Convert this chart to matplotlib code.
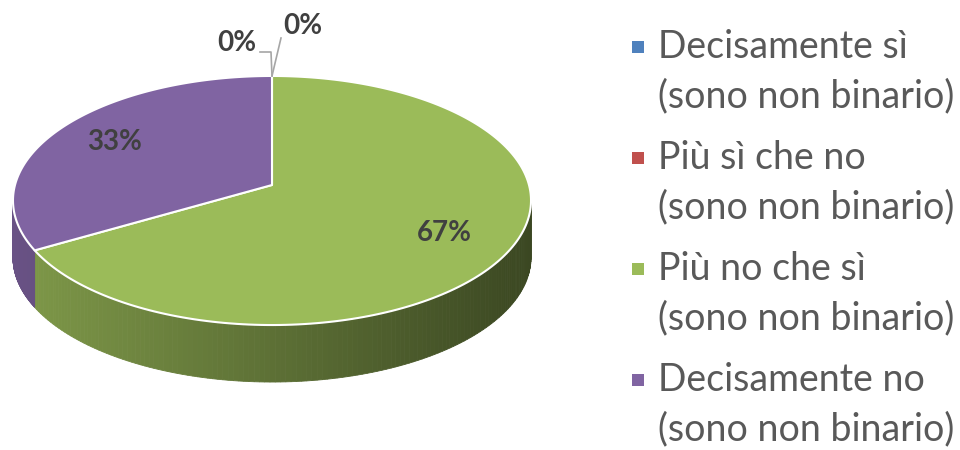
import numpy as np
import matplotlib.pyplot as plt
from matplotlib.patches import Polygon, Rectangle

# ── Data ──────────────────────────────────────────────────────────────────────
categories = ["Decisamente sì\n(sono non binario)",
              "Più sì che no\n(sono non binario)",
              "Più no che sì\n(sono non binario)",
              "Decisamente no\n(sono non binario)"]
values = [0, 0, 2, 1]
colors = ["#4F81BD", "#C0504D", "#9BBB59", "#8064A2"]

# ── Geometry (pixel space), slight perspective like Excel's 3-D pie ─────────
cx, cy = 272, 185      # projected centre of the top disc
rx, ry = 257, 122.6
persp = 0.1245
depth = 57

plt.rcParams["font.family"] = ["Lato", "DejaVu Sans"]

fig = plt.figure(figsize=(9.6, 4.5), dpi=100)
ax = fig.add_axes([0, 0, 1, 1])
ax.set_xlim(0, 960)
ax.set_ylim(450, 0)
ax.axis("off")


def pt(theta, r=1.0, dz=0.0):
    # theta measured clockwise from 12 o'clock
    u, v = r * np.sin(theta), r * np.cos(theta)
    w = 1 + persp * v
    return cx + rx * u / w, cy - ry * v / w + dz


def shade(hex_color, f):
    c = np.array([int(hex_color[i:i + 2], 16) for i in (1, 3, 5)]) / 255
    return tuple(np.clip(c * f, 0, 1))


total = sum(values)
fracs = np.array(values) / total
ends = np.cumsum(fracs) * 2 * np.pi
starts = ends - fracs * 2 * np.pi

# visible part of the rim (silhouette points where cos(theta) = -persp)
rim_lo = np.arccos(-persp)
rim_hi = 2 * np.pi - rim_lo
x_left = pt(rim_hi)[0]
x_right = pt(rim_lo)[0]

# side walls, drawn as thin shaded strips
for a, b, col in zip(starts, ends, colors):
    lo, hi = max(a, rim_lo), min(b, rim_hi)
    if hi <= lo:
        continue
    th = np.linspace(lo, hi, 140)
    for t0, t1 in zip(th[:-1], th[1:]):
        x0, y0 = pt(t0)
        x1, y1 = pt(t1)
        t = ((x0 + x1) / 2 - x_left) / (x_right - x_left)
        f = 0.82 - 0.44 * t
        poly = [(x0, y0), (x1, y1), (x1, y1 + depth), (x0, y0 + depth)]
        ax.add_patch(Polygon(poly, closed=True, facecolor=shade(col, f),
                             edgecolor=shade(col, f), linewidth=0.6))

# top face
for a, b, col in zip(starts, ends, colors):
    if b - a <= 0:
        continue
    th = np.linspace(a, b, 200)
    xs, ys = pt(th)
    poly = [(cx, cy)] + list(zip(xs, ys))
    ax.add_patch(Polygon(poly, closed=True, facecolor=col,
                         edgecolor="white", linewidth=1.5, joinstyle="round"))

# data labels
for a, b, v in zip(starts, ends, values):
    if v == 0:
        continue
    lx, ly = pt((a + b) / 2, r=0.74)
    ax.text(lx, ly, f"{v / total:.0%}", ha="center", va="center",
            fontsize=20, fontweight="bold", color="#404040")

# 0% labels with leader lines
tx, ty = pt(0.0)
zero_labels = [(237, 43), (303, 26)]
ax.plot([tx, tx - 1, tx - 12], [ty, 52, 52], color="#A6A6A6", lw=1.2)
ax.plot([tx, 281], [ty, 38], color="#A6A6A6", lw=1.2)
for (lx, ly), v in zip(zero_labels, values[:2]):
    ax.text(lx, ly, f"{v / total:.0%}", ha="center", va="center",
            fontsize=20, fontweight="bold", color="#404040")

# legend
for i, (cat, col) in enumerate(zip(categories, colors)):
    y0 = 47 + i * 111
    ax.add_patch(Rectangle((632, y0 - 6), 12, 12, facecolor=col, edgecolor="none"))
    for j, line in enumerate(cat.split("\n")):
        ax.text(658, y0 + j * 49, line, ha="left", va="center",
                fontsize=27, color="#595959")

plt.savefig("out.png", dpi=100)
